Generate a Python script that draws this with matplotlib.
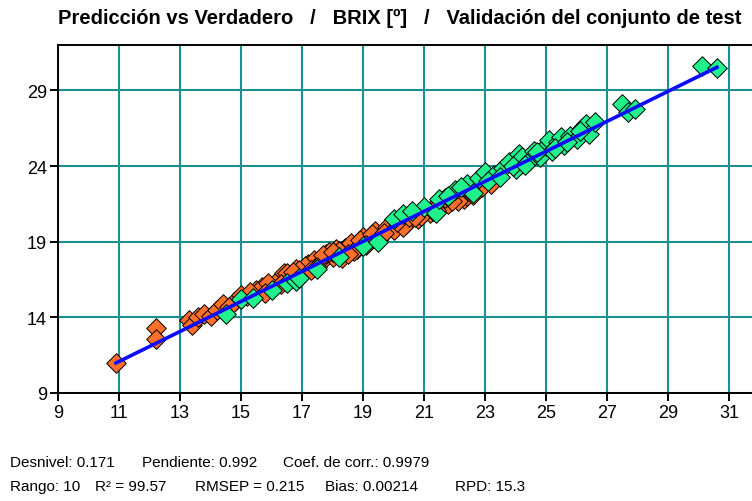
import numpy as np
import matplotlib.pyplot as plt

plt.rcParams['font.family'] = ['Liberation Sans', 'DejaVu Sans']

# calibration set (orange)
orange_true = [10.9, 12.2, 12.2, 13.3, 13.4, 13.6, 13.8, 14.0, 14.2, 14.4, 14.8, 15.0,
               15.2, 15.5, 15.7, 16.0, 16.2, 16.4, 16.6, 16.8, 17.0, 17.2, 17.4, 17.6,
               17.8, 18.0, 18.1, 18.3, 18.4, 18.6, 18.8, 19.0, 19.2, 19.4, 19.6, 19.8,
               20.0, 20.2, 20.4, 20.6, 20.8, 21.0, 21.2, 21.5, 21.8, 22.0, 22.3, 22.4,
               22.6, 22.9, 23.2, 16.5, 17.1, 17.9, 18.7, 19.5, 20.3, 21.4, 15.9, 16.9,
               15.3, 15.8, 16.3, 16.7, 17.3, 17.7, 18.2, 18.5, 18.9, 19.3, 19.7, 20.1,
               20.5, 20.9, 21.3, 21.7, 22.1, 22.5, 17.5, 18.0, 19.1, 20.7, 21.9, 14.6]
orange_pred = [11.0, 13.3, 12.6, 13.8, 13.5, 14.0, 14.2, 14.1, 14.5, 14.9, 15.1, 15.5,
               15.4, 15.8, 16.0, 16.1, 16.5, 16.9, 16.8, 17.2, 17.0, 17.5, 17.8, 17.6,
               18.2, 18.0, 18.5, 17.9, 18.6, 18.9, 18.5, 19.3, 19.0, 19.7, 19.4, 20.0,
               19.8, 20.4, 20.2, 20.8, 20.5, 21.2, 20.9, 21.6, 21.5, 22.2, 21.8, 22.0,
               22.1, 22.6, 22.8, 16.9, 17.4, 18.3, 18.4, 19.1, 20.0, 21.1, 16.3, 17.1,
               15.7, 15.6, 16.2, 17.0, 17.1, 18.1, 18.4, 18.2, 19.1, 19.5, 19.6, 20.3,
               20.6, 20.7, 21.0, 21.9, 21.7, 22.4, 17.3, 18.3, 18.8, 20.6, 21.7, 14.7]

# test set (green)
green_true = [14.5, 15.0, 15.4, 16.0, 16.5, 16.8, 16.9, 17.5, 18.2, 19.0, 19.5, 20.0,
              20.3, 21.0, 21.4, 21.5, 22.0, 22.4, 22.6, 22.8, 23.0, 23.3, 23.6, 23.8,
              24.0, 24.1, 24.2, 24.4, 24.6, 24.8, 25.0, 25.1, 25.2, 25.4, 25.5, 25.6,
              25.8, 26.0, 26.2, 26.3, 26.4, 26.6, 27.5, 27.7, 27.9, 30.1, 30.6,
              23.1, 23.5, 23.9, 24.3, 24.7, 25.3, 25.7, 26.1, 22.2, 20.6, 21.8]
green_pred = [14.2, 15.2, 15.3, 15.8, 16.3, 16.4, 16.6, 17.2, 18.0, 18.7, 19.0, 20.5,
              20.8, 21.3, 20.9, 21.8, 22.4, 22.8, 22.2, 23.2, 23.6, 23.4, 23.9, 24.3,
              23.8, 24.8, 24.6, 24.3, 25.0, 24.6, 25.3, 25.7, 25.0, 25.6, 25.9, 25.4,
              26.0, 25.8, 26.6, 26.8, 26.1, 26.9, 28.1, 27.6, 27.8, 30.6, 30.5,
              23.0, 23.3, 24.0, 24.1, 24.9, 25.2, 25.6, 26.3, 22.6, 21.0, 22.0]

offset = 0.171
slope = 0.992
line_range = [10.9, 30.6]

x_ticks = [9, 11, 13, 15, 17, 19, 21, 23, 25, 27, 29, 31]
y_ticks = [9, 14, 19, 24, 29]

fig = plt.figure(figsize=(7.52, 5.02), dpi=100)
ax = fig.add_axes([58 / 752, 1 - 394 / 502, 1 - 58 / 752, (394 - 46) / 502])

ax.set_xlim(9, 31.75)
ax.set_ylim(9, 32)
ax.set_xticks(x_ticks)
ax.set_yticks(y_ticks)
ax.grid(True, color='#1a9090', linewidth=1.5)
ax.set_axisbelow(True)

ax.scatter(orange_true, orange_pred, marker='D', s=100, color='#ff6f2a',
           edgecolor='black', linewidth=0.7, zorder=3)
ax.scatter(green_true, green_pred, marker='D', s=100, color='#22f08c',
           edgecolor='black', linewidth=0.7, zorder=3)

lx = np.array(line_range)
ax.plot(lx, offset + slope * lx, color='#0a0aff', linewidth=2.6, zorder=4)

for side in ['left', 'bottom', 'top']:
    ax.spines[side].set_color('black')
    ax.spines[side].set_linewidth(1.4)
ax.spines['right'].set_visible(False)
ax.tick_params(direction='out', length=6, width=1.4, labelsize=13,
               colors='black', pad=2)

fig.text(400 / 752, 1 - 18 / 502,
         'Predicción vs Verdadero   /   BRIX [º]   /   Validación del conjunto de test',
         ha='center', va='center', fontsize=14.5, fontweight='bold')

row1 = [(10, 'Desnivel: 0.171'), (142, 'Pendiente: 0.992'),
        (283, 'Coef. de corr.: 0.9979')]
row2 = [(10, 'Rango: 10'), (95, 'R² = 99.57'), (195, 'RMSEP = 0.215'),
        (325, 'Bias: 0.00214'), (455, 'RPD: 15.3')]
for x, t in row1:
    fig.text(x / 752, 1 - 463 / 502, t, ha='left', va='center', fontsize=11)
for x, t in row2:
    fig.text(x / 752, 1 - 487 / 502, t, ha='left', va='center', fontsize=11)

fig.savefig('out.png', dpi=100)
